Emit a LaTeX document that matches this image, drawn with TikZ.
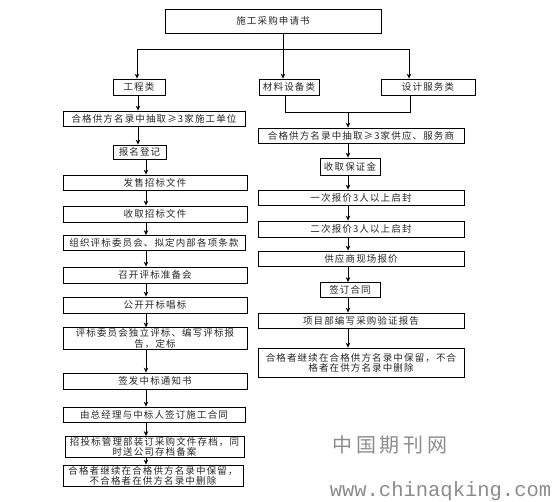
\documentclass[tikz,border=0pt]{standalone}
\usepackage{fontspec}
\newfontfamily\cjk{Noto Sans CJK SC}[LetterSpace=12]
\newfontfamily\wmcjk{Noto Sans CJK SC}[LetterSpace=18]
\newfontfamily\wmmono{Liberation Mono}
\usetikzlibrary{arrows.meta}
\tikzset{
  box/.style={draw=black, line width=0.8pt, inner sep=1pt, align=center,
    text=black!85, font=\cjk\fontsize{9.5}{10.2}\selectfont},
  arr/.style={-{Stealth[length=5pt,width=4.5pt]}, line width=0.7pt, draw=black},
  ln/.style={line width=0.7pt, draw=black},
  wmark/.style={text=black!45, inner sep=0pt}
}
\begin{document}
\begin{tikzpicture}[x=1pt,y=-1pt]
\useasboundingbox (0,0) rectangle (556,502);
% top level
\node[box, minimum width=216pt, minimum height=24pt] (top) at (273,21) {施工采购申请书};
\node[box, minimum width=52pt, minimum height=16pt] (eng) at (139,87) {工程类};
\node[box, minimum width=60pt, minimum height=16pt] (mat) at (289,87) {材料设备类};
\node[box, minimum width=94pt, minimum height=16pt] (des) at (428,87) {设计服务类};
% left column
\node[box, minimum width=182pt, minimum height=15pt] (L1) at (154,118.5) {合格供方名录中抽取≥3家施工单位};
\node[box, minimum width=53pt, minimum height=14pt] (L2) at (139.5,152) {报名登记};
\node[box, minimum width=184pt, minimum height=15pt] (L3) at (155,182.5) {发售招标文件};
\node[box, minimum width=184pt, minimum height=16pt] (L4) at (155,214) {收取招标文件};
\node[box, minimum width=182pt, minimum height=15pt] (L5) at (154,243) {组织评标委员会、拟定内部各项条款};
\node[box, minimum width=184pt, minimum height=16pt] (L6) at (155,275) {召开评标准备会};
\node[box, minimum width=184pt, minimum height=16pt] (L7) at (155,305) {公开开标唱标};
\node[box, minimum width=184pt, minimum height=21pt] (L8) at (155,338.5) {评标委员会独立评标、编写评标报\\告，定标};
\node[box, minimum width=184pt, minimum height=16pt] (L9) at (155,381) {签发中标通知书};
\node[box, minimum width=182pt, minimum height=15pt] (L10) at (154,414.5) {由总经理与中标人签订施工合同};
\node[box, minimum width=179pt, minimum height=20pt] (L11) at (154.5,447) {招投标管理部装订采购文件存档，同\\时送公司存档备案};
\node[box, minimum width=180pt, minimum height=20pt] (L12) at (153,475.5) {合格者继续在合格供方名录中保留，\\不合格者在供方名录中删除};
% right column
\node[box, minimum width=206pt, minimum height=15pt] (R1) at (361,135.5) {合格供方名录中抽取≥3家供应、服务商};
\node[box, minimum width=60pt, minimum height=17pt] (R2) at (350,166.5) {收取保证金};
\node[box, minimum width=206pt, minimum height=15pt] (R3) at (361,197.5) {一次报价3人以上启封};
\node[box, minimum width=206pt, minimum height=16pt] (R4) at (361,229) {二次报价3人以上启封};
\node[box, minimum width=206pt, minimum height=15pt] (R5) at (361,258.5) {供应商现场报价};
\node[box, minimum width=60pt, minimum height=15pt] (R6) at (350,290) {签订合同};
\node[box, minimum width=206pt, minimum height=15pt] (R7) at (361,320.5) {项目部编写采购验证报告};
\node[box, minimum width=206pt, minimum height=29pt] (R8) at (361,362.5) {合格者继续在合格供方名录中保留，不合\\格者在供方名录中删除};
% helper coordinates
\coordinate (jl) at (137,49);
\coordinate (jr) at (409,49);
\coordinate (cm) at (283,0);
\coordinate (la1) at (138,0);
\coordinate (la2) at (146,0);
\coordinate (u1) at (285,0);
\coordinate (u2) at (410,0);
\coordinate (ub) at (0,112);
\coordinate (ra) at (348,0);
% top connectors
\draw[ln] (jl) -- (jr);
\draw[arr] (jl) -- (jl |- eng.north);
\draw[arr] (jr) -- (jr |- des.north);
\draw[arr] (top.south -| cm) -- (cm |- mat.north);
% left connectors
\draw[arr] (eng.south -| la1) -- (la1 |- L1.north);
\draw[arr] (L1.south -| la1) -- (la1 |- L2.north);
\draw[arr] (L2.south -| la2) -- (la2 |- L3.north);
\draw[arr] (L3.south -| la2) -- (la2 |- L4.north);
\draw[arr] (L4.south -| la2) -- (la2 |- L5.north);
\draw[arr] (L5.south -| la2) -- (la2 |- L6.north);
\draw[arr] (L6.south -| la2) -- (la2 |- L7.north);
\draw[arr] (L7.south -| la2) -- (la2 |- L8.north);
\draw[arr] (L8.south -| la2) -- (la2 |- L9.north);
\draw[arr] (L9.south -| la2) -- (la2 |- L10.north);
\draw[arr] (L10.south -| la2) -- (la2 |- L11.north);
\draw[arr] (L11.south -| la2) -- (la2 |- L12.north);
% right connectors
\draw[ln] (mat.south -| u1) -- (u1 |- ub) -- (u2 |- ub) -- (des.south -| u2);
\draw[arr] (ra |- ub) -- (ra |- R1.north);
\draw[arr] (R1.south -| ra) -- (ra |- R2.north);
\draw[arr] (R2.south -| ra) -- (ra |- R3.north);
\draw[arr] (R3.south -| ra) -- (ra |- R4.north);
\draw[arr] (R4.south -| ra) -- (ra |- R5.north);
\draw[arr] (R5.south -| ra) -- (ra |- R6.north);
\draw[arr] (R6.south -| ra) -- (ra |- R7.north);
\draw[arr] (R7.south -| ra) -- (ra |- R8.north);
% watermark
\node[wmark, font=\wmcjk\fontsize{20}{22}\selectfont] (w1) at (390,445) {中国期刊网};
\node[wmark, font=\wmmono\fontsize{20.5}{22}\selectfont] (w2) at (440.5,491) {www.chinaqking.com};
\end{tikzpicture}
\end{document}
